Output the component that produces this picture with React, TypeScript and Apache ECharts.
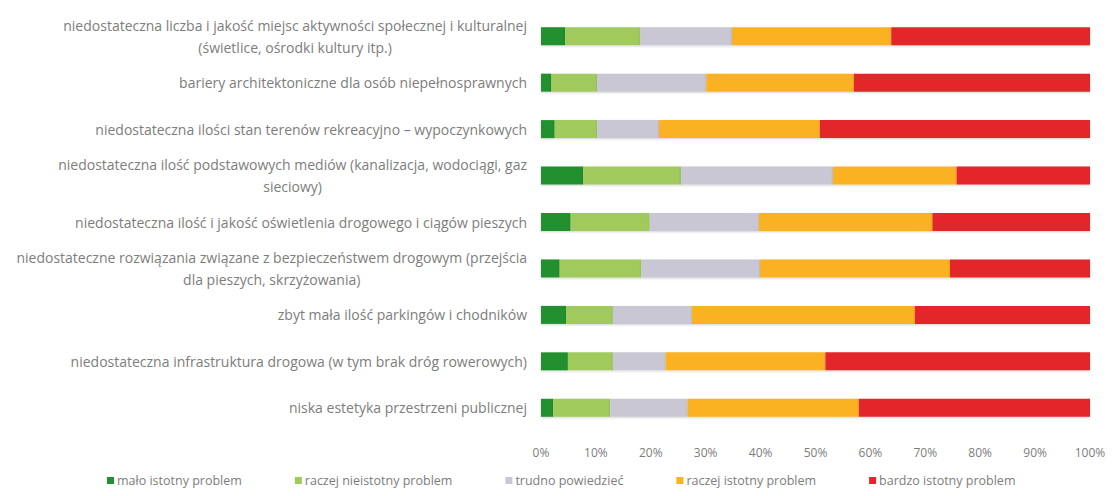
import React, { useEffect, useRef } from "react";
import * as echarts from "echarts";

const categories = [
  "niedostateczna liczba i jakość miejsc aktywności społecznej i kulturalnej\n(świetlice, ośrodki kultury itp.)",
  "bariery architektoniczne dla osób niepełnosprawnych",
  "niedostateczna ilości stan terenów rekreacyjno – wypoczynkowych",
  "niedostateczna ilość podstawowych mediów (kanalizacja, wodociągi, gaz\nsieciowy)",
  "niedostateczna ilość i jakość oświetlenia drogowego i ciągów pieszych",
  "niedostateczne rozwiązania związane z bezpieczeństwem drogowym (przejścia\ndla pieszych, skrzyżowania)",
  "zbyt mała ilość parkingów i chodników",
  "niedostateczna infrastruktura drogowa (w tym brak dróg rowerowych)",
  "niska estetyka przestrzeni publicznej",
];

const seriesNames = [
  "mało istotny problem",
  "raczej nieistotny problem",
  "trudno powiedzieć",
  "raczej istotny problem",
  "bardzo istotny problem",
];

const maloIstotny = [4.4, 1.9, 2.5, 7.7, 5.4, 3.4, 4.6, 4.9, 2.2];
const raczejNieistotny = [13.7, 8.3, 7.7, 17.8, 14.4, 14.9, 8.5, 8.2, 10.4];
const trudnoPowiedziec = [16.7, 19.9, 11.3, 27.7, 19.9, 21.6, 14.4, 9.6, 14.1];
const raczejIstotny = [29.0, 26.9, 29.3, 22.5, 31.6, 34.6, 40.6, 29.1, 31.2];
const bardzoIstotny = [36.2, 43.0, 49.2, 24.3, 28.7, 25.5, 31.9, 48.2, 42.1];

const seriesValues = [maloIstotny, raczejNieistotny, trudnoPowiedziec, raczejIstotny, bardzoIstotny];
const colors = ["#21902f", "#a0ca5c", "#c9c7d3", "#fbb224", "#e3262a"];

const FONT = "'Open Sans', sans-serif";
const TEXT_COLOR = "#7d7d7d";

export default function App() {
  const ref = useRef<HTMLDivElement>(null);

  useEffect(() => {
    if (!ref.current) return;
    const chart = echarts.init(ref.current, undefined, { renderer: "svg" });
    chart.setOption({
      animation: false,
      backgroundColor: "#ffffff",
      textStyle: { fontFamily: FONT },
      grid: { left: 541, right: 22, top: 13, bottom: 65, containLabel: false },
      legend: {
        bottom: 4,
        left: 102,
        itemWidth: 7,
        itemHeight: 7,
        itemGap: 53,
        icon: "rect",
        textStyle: { color: TEXT_COLOR, fontSize: 12.5, fontFamily: FONT, padding: [0, 0, 0, -2] },
        data: seriesNames,
      },
      xAxis: {
        type: "value",
        min: 0,
        max: 100,
        interval: 10,
        axisLine: { show: false },
        axisTick: { show: false },
        splitLine: { show: false },
        axisLabel: {
          formatter: "{value}%",
          color: TEXT_COLOR,
          fontSize: 12,
          fontFamily: FONT,
          margin: 15,
        },
      },
      yAxis: {
        type: "category",
        inverse: true,
        data: categories,
        axisLine: { show: false },
        axisTick: { show: false },
        axisLabel: {
          margin: 14,
          color: TEXT_COLOR,
          fontSize: 14,
          fontFamily: FONT,
          lineHeight: 22,
          formatter: (v: string) =>
            v.includes("\n")
              ? v
                  .split("\n")
                  .map((l) => `{c|${l}}`)
                  .join("\n")
              : v,
          rich: {
            c: {
              align: "center",
              color: TEXT_COLOR,
              fontSize: 14,
              fontFamily: FONT,
              lineHeight: 22,
            },
          },
        },
      },
      series: seriesNames.map((name, i) => ({
        name,
        type: "bar",
        stack: "total",
        barWidth: 18,
        data: seriesValues[i],
        itemStyle: {
          color: colors[i],
          shadowColor: "rgba(0,0,0,0.18)",
          shadowBlur: 2,
          shadowOffsetY: 1,
        },
      })),
    });
    return () => chart.dispose();
  }, []);

  return (
    <div
      ref={ref}
      style={{ position: "absolute", left: 0, top: 0, width: 1112, height: 496 }}
    />
  );
}
